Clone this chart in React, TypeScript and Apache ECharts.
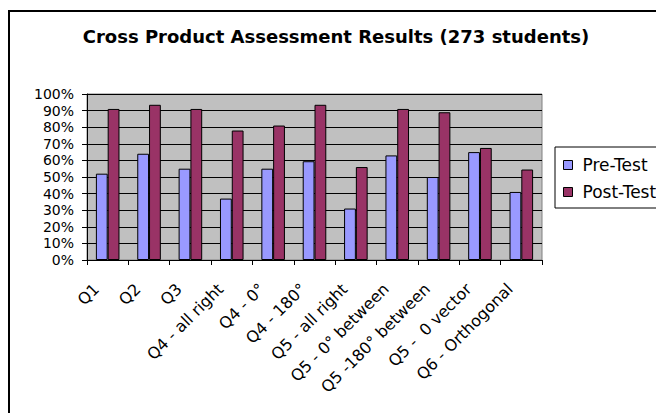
import React, { useEffect, useRef } from "react";
import * as echarts from "echarts";

const categories = [
  "Q1",
  "Q2",
  "Q3",
  "Q4 - all right",
  "Q4 - 0°",
  "Q4 - 180°",
  "Q5 - all right",
  "Q5 - 0° between",
  "Q5 -180° between",
  "Q5 -  0 vector",
  "Q6 - Orthogonal",
];
const preTest = [52, 64, 55, 37, 55, 59.5, 31, 63, 50, 65, 41];
const postTest = [91, 93.5, 91, 78, 81, 93.5, 56, 91, 89, 67.5, 54.5];
const titleText = "Cross Product Assessment Results (273 students)";
const seriesNames = ["Pre-Test", "Post-Test"];

const FONT = "DejaVu Sans";

export default function App() {
  const ref = useRef<HTMLDivElement>(null);
  useEffect(() => {
    if (!ref.current) return;
    const chart = echarts.init(ref.current, null, { renderer: "svg" });
    chart.setOption({
      animation: false,
      backgroundColor: "#ffffff",
      title: {
        text: titleText,
        left: 328,
        top: 19,
        padding: 0,
        textAlign: "center",
        textStyle: { fontFamily: FONT, fontSize: 18, fontWeight: "bold", color: "#000" },
      },
      graphic: [
        {
          type: "rect",
          shape: { x: 1, y: 3, width: 900, height: 900 },
          style: { fill: "none", stroke: "#000", lineWidth: 2 },
          silent: true,
          z: 100,
        },
      ],
      legend: {
        orient: "vertical",
        left: 547,
        top: 139,
        data: seriesNames,
        borderColor: "#000",
        borderWidth: 1,
        padding: [9, 60, 7, 8],
        itemWidth: 9,
        itemHeight: 9,
        itemGap: 9,
        icon: "rect",
        itemStyle: { borderColor: "#000", borderWidth: 1 },
        textStyle: { fontFamily: FONT, fontSize: 17, color: "#000", lineHeight: 18, padding: [0, 0, 0, 5] },
      },
      grid: {
        left: 79,
        top: 86,
        width: 455,
        height: 166,
        show: true,
        backgroundColor: "#c0c0c0",
        borderColor: "#808080",
        borderWidth: 1,
      },
      xAxis: {
        type: "category",
        data: categories,
        axisLine: { lineStyle: { color: "#000", width: 1 } },
        axisTick: { show: true, length: 5, lineStyle: { color: "#000" } },
        axisLabel: {
          interval: 0,
          rotate: 45,
          margin: 15,
          fontFamily: FONT,
          fontSize: 16,
          color: "#000",
          padding: [0, 16, 0, 0],
        },
      },
      yAxis: {
        type: "value",
        min: 0,
        max: 100,
        interval: 10,
        axisLine: { show: true, lineStyle: { color: "#000", width: 1 } },
        axisTick: { show: true, length: 5, lineStyle: { color: "#000" } },
        axisLabel: {
          formatter: "{value}%",
          margin: 13,
          fontFamily: FONT,
          fontSize: 14,
          lineHeight: 14,
          color: "#000",
        },
        splitLine: { show: true, lineStyle: { color: "#000", width: 1 } },
      },
      series: [
        {
          name: seriesNames[0],
          type: "bar",
          data: preTest,
          barGap: "0%",
          barCategoryGap: "43%",
          itemStyle: { color: "#9999ff", borderColor: "#000", borderWidth: 1 },
        },
        {
          name: seriesNames[1],
          type: "bar",
          data: postTest,
          barGap: "0%",
          barCategoryGap: "43%",
          itemStyle: { color: "#993366", borderColor: "#000", borderWidth: 1 },
        },
      ],
    });
    return () => chart.dispose();
  }, []);
  return (
    <div style={{ width: 656, height: 405, overflow: "hidden" }}>
      <div ref={ref} style={{ width: 720, height: 405 }} />
    </div>
  );
}
